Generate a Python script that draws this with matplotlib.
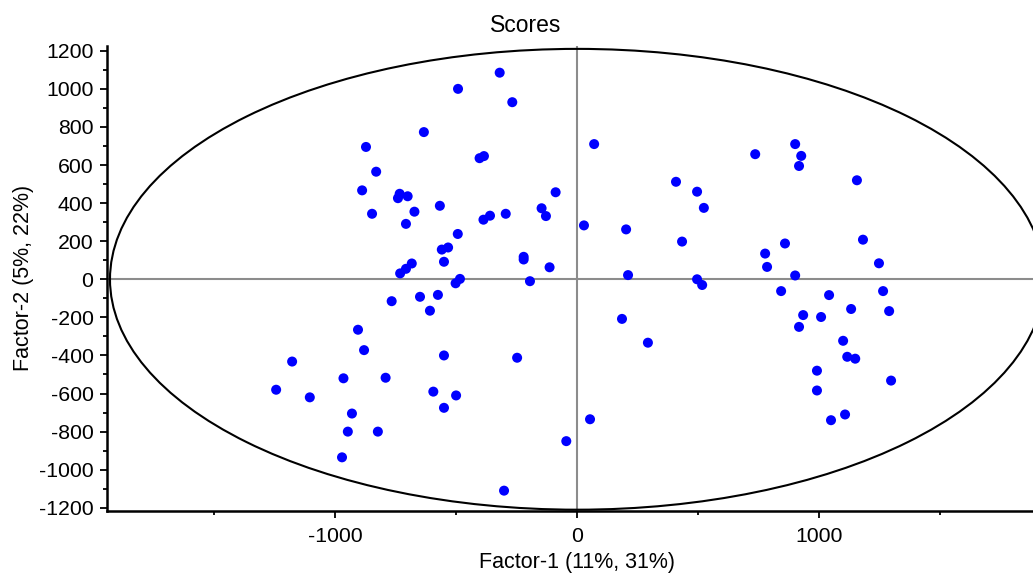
import matplotlib.pyplot as plt
from matplotlib.patches import Ellipse
from matplotlib.ticker import MultipleLocator

plt.rcParams['font.family'] = ['Liberation Sans', 'DejaVu Sans']
plt.rcParams['axes.unicode_minus'] = False

# scores
f1_left = [-320, -492, -268, -872, -633, -830, -888, -847, -733, -740, -700, -672,
           -707, -567, -403, -385, -387, -360, -295, -89, -147, -129, -493, -559,
           -533, -550, -683, -707, -731, -221, -221, -114, -195, -484, -502, -766,
           -649, -575, -608, -905, -880, -550, -248, -1177, -1243, -1104, -965, -791,
           -594, -500, -550, -930, -947, -823, -971, -302, -45, 53]
f2_left = [1085, 1000, 930, 695, 773, 565, 467, 344, 449, 426, 436, 355,
           291, 386, 636, 647, 313, 334, 344, 457, 373, 332, 238, 156,
           167, 92, 83, 55, 31, 118, 104, 63, -10, 2, -21, -115,
           -92, -82, -165, -265, -372, -400, -412, -432, -580, -620, -520, -517,
           -590, -610, -675, -705, -800, -800, -935, -1110, -850, -735]

f1_right = [70, 28, 202, 210, 185, 292, 408, 433, 516, 495, 523, 495, 735, 900,
            925, 916, 1155, 776, 784, 858, 842, 900, 1180, 1246, 1263, 1288, 1040,
            1131, 933, 1007, 916, 1098, 1115, 1148, 990, 1296, 990, 1106, 1048]
f2_right = [710, 283, 262, 22, -208, -333, 512, 198, -30, 460, 375, 0, 657, 710,
            648, 595, 520, 135, 65, 188, -62, 20, 208, 84, -62, -167, -83,
            -156, -188, -198, -250, -323, -407, -417, -480, -532, -584, -710, -740]

x = f1_left + f1_right
y = f2_left + f2_right

fig = plt.figure(figsize=(10.33, 5.76), dpi=100)
# axes run a bit past the right edge of the picture, as in the original
ax = fig.add_axes([0.1039, 0.1128, 0.9097, 0.8073])

ax.axhline(0, color='#8c8c8c', lw=1.5, zorder=1)
ax.axvline(0, color='#8c8c8c', lw=1.5, zorder=1)

ell = Ellipse((0, 0), width=2 * 1929, height=2 * 1210, fill=False,
              edgecolor='black', lw=1.5, zorder=2)
ax.add_patch(ell)

ax.scatter(x, y, s=52, color='#0000ff', edgecolors='none', zorder=3)

ax.set_xlim(-1940, 1940)
ax.set_ylim(-1217, 1225)
ax.set_xticks([-1000, 0, 1000])
ax.xaxis.set_minor_locator(MultipleLocator(500))
ax.set_yticks(range(-1200, 1201, 200))
ax.yaxis.set_minor_locator(MultipleLocator(100))

for s in ['top', 'right']:
    ax.spines[s].set_visible(False)
for s in ['left', 'bottom']:
    ax.spines[s].set_linewidth(1.8)

ax.tick_params(which='major', length=5, width=1.3, labelsize=15.3)
ax.tick_params(which='minor', length=3, width=1.3)
ax.tick_params(axis='x', pad=6.5)
ax.tick_params(axis='y', pad=5)

fig.text(0.509, 0.9444, 'Scores', ha='center', va='baseline', fontsize=16.5)
fig.text(0.5587, 0.0139, 'Factor-1 (11%, 31%)', ha='center', va='baseline', fontsize=15.5)
fig.text(0.023, 0.517, 'Factor-2 (5%, 22%)', ha='center', va='center',
         rotation=90, fontsize=15.5)

plt.savefig('out.png', dpi=100)
